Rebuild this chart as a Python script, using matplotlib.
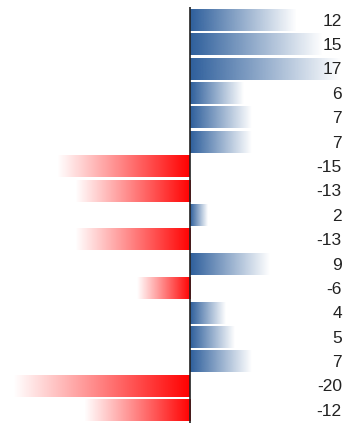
import numpy as np
import matplotlib
matplotlib.use("Agg")
import matplotlib.pyplot as plt
from matplotlib.colors import to_rgb

values = [12, 15, 17, 6, 7, 7, -15, -13, 2, -13, 9, -6, 4, 5, 7, -20, -12]
labels = [str(v) for v in values]

POS_COLOR = "#2d5e9b"
NEG_COLOR = "#ff0000"
BAR_H = 0.9

fig = plt.figure(figsize=(3.43, 4.23), dpi=100)
ax = fig.add_axes([0, 0, 1, 416 / 423])
ax.axis("off")


def gradient_bar(ax, i, v):
    # full colour at zero, fading to transparent at the bar tip
    rgb = to_rgb(POS_COLOR if v > 0 else NEG_COLOR)
    n = 256
    img = np.zeros((1, n, 4))
    img[..., :3] = rgb
    alpha = np.linspace(1, 0, n)
    if v < 0:
        alpha = alpha[::-1]
    img[..., 3] = alpha
    x0, x1 = (0, v) if v > 0 else (v, 0)
    ax.imshow(img, extent=(x0, x1, i + BAR_H / 2, i - BAR_H / 2),
              aspect="auto", interpolation="bilinear", zorder=1)


for i, v in enumerate(values):
    gradient_bar(ax, i, v)
    ax.text(17.15, i + 0.05, labels[i], ha="right", va="center",
            fontsize=12.5, family="Liberation Sans", color="#222222", zorder=3)

ax.set_xlim(-21.47, 17.29)
ax.set_ylim(16.53, -0.533)
ax.axvline(0, color="#222222", lw=1.2, zorder=2)

fig.savefig("out.png", dpi=100)
